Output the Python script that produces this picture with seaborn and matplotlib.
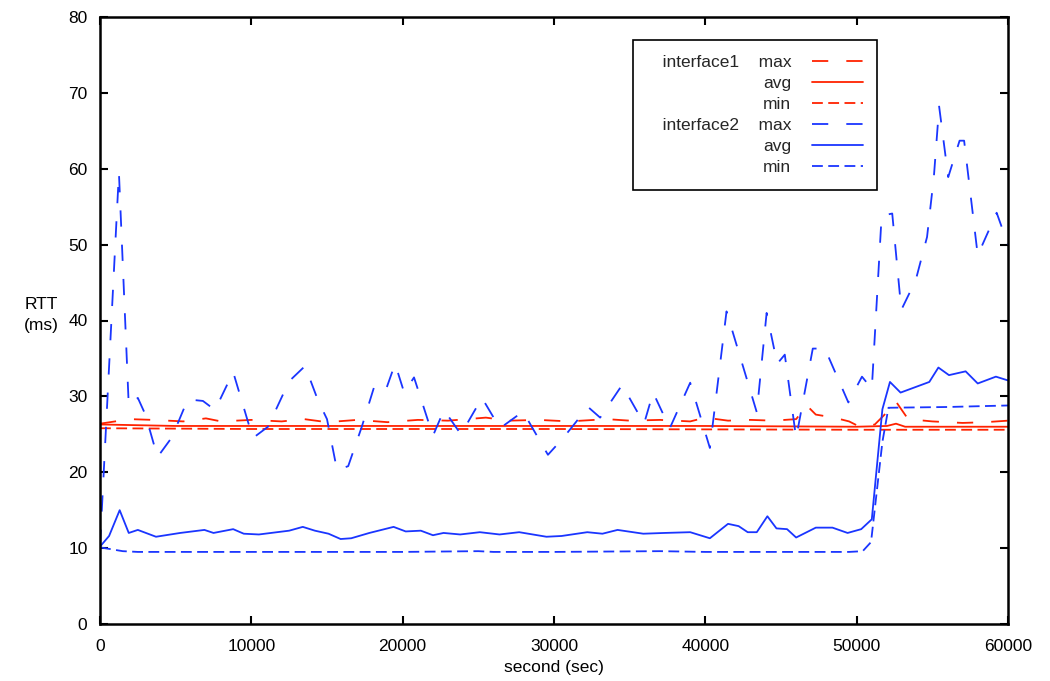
import numpy as np
import pandas as pd
import matplotlib
matplotlib.use("Agg")
import matplotlib.pyplot as plt
import seaborn as sns

# ---------------- data ----------------
if1_max_x = [0, 2000, 3500, 5500, 7000, 8000, 10000, 12000, 13500, 15000, 17000, 19000,
             21000, 23000, 25500, 27000, 29000, 31000, 33500, 35000, 37000, 39000, 40000,
             41500, 43000, 44500, 46000, 46700, 47300, 48500, 49500, 50300, 51200, 51800,
             52600, 53400, 55000, 57000, 58500, 60000]
if1_max_y = [26.4, 27.0, 26.9, 26.7, 27.1, 26.7, 26.9, 26.7, 27.0, 26.6, 26.9, 26.6,
             26.9, 26.8, 27.2, 26.8, 26.9, 26.7, 27.0, 26.8, 26.9, 26.7, 27.2,
             26.8, 26.9, 26.8, 27.0, 28.8, 27.6, 27.2, 26.7, 25.9, 26.3, 27.5,
             29.3, 27.0, 26.7, 26.5, 26.6, 26.8]

if1_avg_x = [0, 5000, 20000, 40000, 50000, 52000, 52600, 53200, 60000]
if1_avg_y = [26.3, 26.1, 26.1, 26.1, 26.0, 26.1, 26.4, 26.0, 26.0]

if1_min_x = [0, 10000, 30000, 50000, 60000]
if1_min_y = [25.8, 25.7, 25.7, 25.6, 25.6]

if2_max_x = [0, 1250, 1900, 2500, 3000, 3800, 4750, 5800, 6800, 7600, 8800, 10100,
             11100, 12500, 13550, 14400, 15000, 15660, 16400, 17300, 18200, 18950,
             19500, 20100, 20750, 22000, 22730, 23850, 25240, 26430, 27950, 29600,
             30600, 32250, 33050, 34500, 35950, 36550, 37650, 39000, 40300, 41400,
             43400, 44050, 44750, 45250, 46000, 47100, 47900, 49450, 50350, 51000,
             51650, 52350, 52950, 53900, 54650, 55100, 55450, 56050, 56800, 57100,
             58000, 59250, 60000]
if2_max_y = [10.3, 59.5, 28.8, 29.8, 27.6, 22.0, 24.6, 29.6, 29.4, 28.2, 33.2, 24.5,
             26.0, 32.0, 34.0, 29.5, 27.0, 20.3, 20.8, 26.0, 31.8, 31.2,
             34.3, 30.5, 32.5, 24.8, 28.2, 25.0, 29.8, 25.8, 28.0, 22.3,
             24.5, 28.6, 27.2, 31.5, 26.4, 30.5, 25.8, 31.8, 23.2, 41.2,
             27.9, 41.0, 34.3, 35.5, 24.5, 36.3, 36.3, 29.2, 32.6, 31.0,
             53.8, 54.1, 41.4, 45.3, 51.0, 58.9, 68.2, 58.9, 63.7, 63.7,
             48.6, 54.2, 50.0]

if2_avg_x = [0, 600, 1300, 1900, 2500, 3700, 5300, 6900, 7500, 8800, 9500, 10500,
             12500, 13400, 14200, 15100, 15900, 16600, 17800, 19400, 20200, 21200,
             22000, 22700, 23800, 25100, 26400, 27700, 29500, 30500, 32200, 33200,
             34200, 35900, 37300, 39000, 40300, 41500, 42200, 42800, 43400, 44100,
             44700, 45400, 46000, 47300, 48400, 49400, 50300, 51000, 51700, 52200,
             52900, 54800, 55400, 56100, 57200, 58000, 59200, 60000]
if2_avg_y = [10.2, 11.6, 15.0, 12.0, 12.4, 11.5, 12.0, 12.4, 12.0, 12.5, 11.9, 11.8,
             12.3, 12.8, 12.3, 11.9, 11.2, 11.3, 12.0, 12.8, 12.2, 12.3,
             11.7, 12.0, 11.8, 12.1, 11.8, 12.1, 11.5, 11.6, 12.1, 11.9,
             12.4, 11.9, 12.0, 12.1, 11.3, 13.2, 12.9, 12.1, 12.1, 14.2,
             12.6, 12.5, 11.4, 12.7, 12.7, 12.0, 12.5, 13.8, 28.3, 31.9,
             30.5, 31.9, 33.8, 32.8, 33.3, 31.7, 32.6, 32.1]

if2_min_x = [0, 1500, 2500, 10000, 20000, 25000, 26000, 27000, 30000, 37000, 40000,
             49500, 50400, 50950, 51700, 52100, 56000, 60000]
if2_min_y = [10.1, 9.6, 9.5, 9.5, 9.5, 9.6, 9.5, 9.5, 9.5, 9.6, 9.5,
             9.5, 9.6, 10.8, 24.0, 28.5, 28.6, 28.8]

x_ticks = [0, 10000, 20000, 30000, 40000, 50000, 60000]
y_ticks = [0, 10, 20, 30, 40, 50, 60, 70, 80]
legend_labels = ["   interface1    max", "avg", "min", "   interface2    max", "avg", "min"]

# ---------------- style ----------------
sns.set_theme(style="white")
plt.rcParams['font.family'] = ['Liberation Sans', 'DejaVu Sans']
plt.rcParams['axes.edgecolor'] = 'black'

RED = '#ff2200'
BLUE = '#1a35ff'
MAXD = (9, 10)
MIND = (6, 3)

fig = plt.figure(figsize=(10.5, 6.81), dpi=100)
ax = fig.add_axes([100 / 1050, 1 - 624 / 681, 908 / 1050, 607 / 681])

series = [
    (if1_max_x, if1_max_y, RED, MAXD),
    (if1_avg_x, if1_avg_y, RED, None),
    (if1_min_x, if1_min_y, RED, MIND),
    (if2_max_x, if2_max_y, BLUE, MAXD),
    (if2_avg_x, if2_avg_y, BLUE, None),
    (if2_min_x, if2_min_y, BLUE, MIND),
]
handles = []
for (xs, ys, color, dash), lab in zip(series, legend_labels):
    df = pd.DataFrame({'x': xs, 'y': ys})
    sns.lineplot(data=df, x='x', y='y', ax=ax, color=color, linewidth=1.3,
                 estimator=None, sort=False, label=lab, legend=False)
    ln = ax.lines[-1]
    if dash is not None:
        ln.set_dashes(dash)
    handles.append(ln)

ax.set_xlim(0, 60000)
ax.set_ylim(0, 80)
ax.set_xticks(x_ticks)
ax.set_yticks(y_ticks)
ax.set_xticklabels([str(v) for v in x_ticks])
ax.set_yticklabels([str(v) for v in y_ticks])
ax.tick_params(axis='both', which='both', direction='in', length=6, width=1.5,
               top=True, right=True, bottom=True, left=True, labelsize=12.5,
               color='black', labelcolor='black')
ax.tick_params(axis='y', pad=9)
ax.tick_params(axis='x', pad=11)
for sp in ax.spines.values():
    sp.set_visible(True)
    sp.set_color('black')
    sp.set_linewidth(1.8)

ax.set_xlabel("second (sec)", fontsize=12.5, color='black', labelpad=4)
ax.set_ylabel("RTT\n(ms)", fontsize=12.5, color='black', rotation=0,
              ha='center', va='center', multialignment='center', linespacing=1.5)
ax.yaxis.set_label_coords(-0.065, 0.509)

leg = ax.legend(handles=handles, labels=legend_labels, loc='upper left',
                bbox_to_anchor=(0.587, 0.962), borderaxespad=0, markerfirst=False,
                frameon=True, fancybox=False, edgecolor='black', framealpha=1,
                fontsize=12.5, handlelength=2.9, labelspacing=0.34, borderpad=0.85,
                handletextpad=1.2)
leg.get_frame().set_linewidth(1.2)

fig.savefig("out.png", dpi=100, facecolor='white')
